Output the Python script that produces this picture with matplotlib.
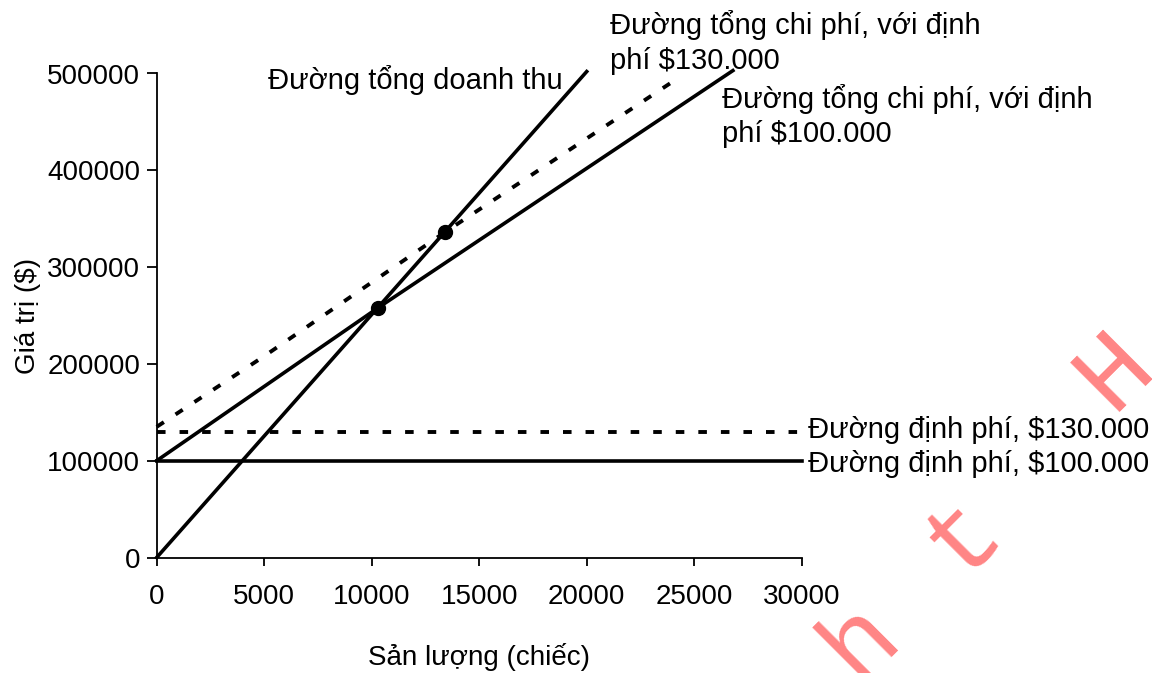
import matplotlib
matplotlib.use("Agg")
import matplotlib.pyplot as plt

plt.rcParams['font.family'] = ['Liberation Sans', 'DejaVu Sans']
plt.rcParams['font.size'] = 20

# revenue and cost lines (q = output units, values in $)
rev_q = [0, 20000]
rev_v = [0, 502000]

tc100_q = [0, 10300, 26800]
tc100_v = [100000, 258000, 503000]

tc130_q = [0, 5000, 13400, 24300]
tc130_v = [135000, 208000, 336000, 496000]

fc_q = [0, 30000]
fc100_v = [100000, 100000]
fc130_v = [130000, 130000]

# break-even points
be_q = [10300, 13400]
be_v = [258000, 336000]

xticks = [0, 5000, 10000, 15000, 20000, 25000, 30000]
yticks = [0, 100000, 200000, 300000, 400000, 500000]

fig = plt.figure(figsize=(11.52, 6.73), dpi=100)
ax = fig.add_axes([156.7/1152, 1 - 557.5/673, 645/1152, 484/673])

dots = (0, (2.2, 3.6))
lw = 2.6
ax.plot(rev_q, rev_v, color='black', lw=lw, clip_on=False)
ax.plot(tc100_q, tc100_v, color='black', lw=lw, clip_on=False)
ax.plot(tc130_q, tc130_v, color='black', lw=2.8, ls=dots, clip_on=False)
ax.plot(fc_q, fc100_v, color='black', lw=lw, clip_on=False)
ax.plot(fc_q, fc130_v, color='black', lw=2.8, ls=dots, clip_on=False)
ax.plot(be_q, be_v, 'o', color='black', ms=10, clip_on=False)

ax.set_xlim(0, 30000)
ax.set_ylim(0, 500000)
ax.set_xticks(xticks)
ax.set_yticks(yticks)
for s in ['top', 'right']:
    ax.spines[s].set_visible(False)
for s in ['left', 'bottom']:
    ax.spines[s].set_linewidth(1.3)
ax.tick_params(axis='x', direction='out', length=6, width=1.3, pad=13)
ax.tick_params(axis='y', direction='out', length=7, width=1.3, pad=5)

ax.set_xlabel('Sản lượng (chiếc)', labelpad=24)
ax.set_ylabel('Giá trị ($)', labelpad=4)

fs = 21
ax.text(5177, 493000, 'Đường tổng doanh thu', fontsize=fs,
        ha='left', va='center', clip_on=False)
ax.text(21084, 532000, 'Đường tổng chi phí, với định\nphí $130.000', fontsize=fs,
        ha='left', va='center', linespacing=1.3, clip_on=False)
ax.text(26293, 456000, 'Đường tổng chi phí, với định\nphí $100.000', fontsize=fs,
        ha='left', va='center', linespacing=1.3, clip_on=False)
ax.text(30293, 131700, 'Đường định phí, $130.000', fontsize=fs,
        ha='left', va='center', clip_on=False)
ax.text(30293, 96600, 'Đường định phí, $100.000', fontsize=fs,
        ha='left', va='center', clip_on=False)

# faint diagonal mark over the lower right
wm = dict(color='#ff8585', fontsize=76, family='Liberation Mono',
          rotation=45, ha='center', va='center', rotation_mode='anchor')
fig.text(860/1152, 1 - 640/673, 'h', **wm)
fig.text(962/1152, 1 - 535/673, 't', **wm)
fig.text(1115/1152, 1 - 370/673, 'H', **wm)

fig.savefig('out.png', dpi=100)
plt.close(fig)
